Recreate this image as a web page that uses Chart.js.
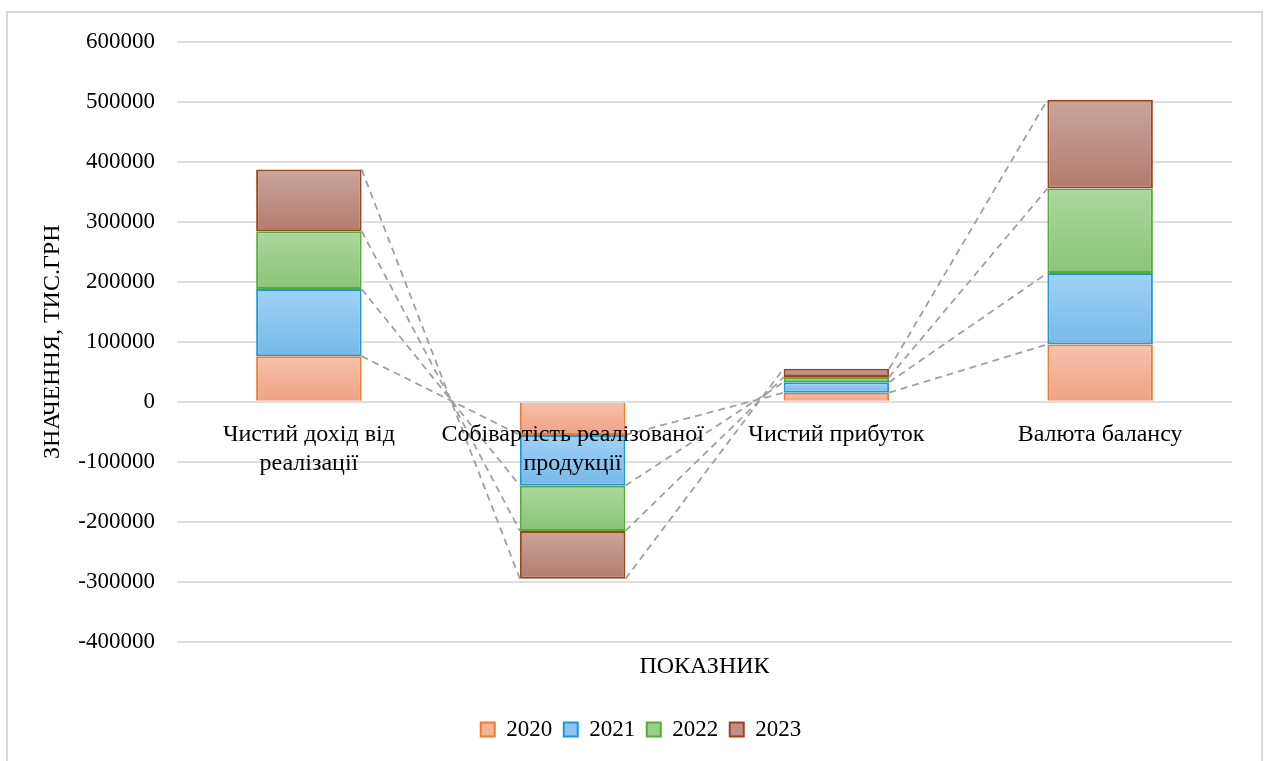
<!DOCTYPE html>
<html>
<head>
<meta charset="utf-8">
<script src="https://cdn.jsdelivr.net/npm/chart.js@4/dist/chart.umd.min.js"></script>
<style>
  html, body { margin: 0; padding: 0; background: #ffffff; }
  #wrap { position: absolute; left: 0; top: 0; width: 1266px; height: 761px; }
  #frame { position: absolute; left: 6px; top: 11px; width: 1253px; height: 800px;
           border: 2px solid #d9d9d9; pointer-events: none; }
</style>
</head>
<body>
<div id="wrap">
  <canvas id="c" width="1266" height="761"></canvas>
  <div id="frame"></div>
</div>
<script>
// ---- data ----
const categories = [
  ['Чистий дохід від', 'реалізації'],
  ['Собівартість реалізованої', 'продукції'],
  'Чистий прибуток',
  'Валюта балансу'
];
const seriesNames = ['2020', '2021', '2022', '2023'];
const values2020 = [76000, -55500, 15000, 95500];
const values2021 = [112000, -84500, 17500, 119000];
const values2022 = [96500, -75500, 8500, 141000];
const values2023 = [103000, -80000, 14000, 148000];
const yTicksMin = -400000;
const yTicksMax = 600000;
const yTickStep = 100000;
const xAxisTitle = 'ПОКАЗНИК';
const yAxisTitle = 'ЗНАЧЕННЯ, ТИС.ГРН';

// ---- styles ----
const allValues = [values2020, values2021, values2022, values2023];
const gradTop = ['#f5c2ae', '#a0d1f6', '#acd89e', '#caa59c'];
const gradBottom = ['#f0a182', '#76b9e8', '#89c478', '#b37b6e'];
const borderCols = ['#ed7d31', '#1f98d8', '#5bab3b', '#9a471d'];
const legendFill = ['#f3b198', '#8cc5ef', '#9bce8b', '#bf9085'];
const FONT = "'Liberation Serif', 'Times New Roman', serif";

function stackValue(ds, idx) {
  const v = allValues[ds][idx];
  let s = 0;
  for (let k = 0; k <= ds; k++) {
    const w = allValues[k][idx];
    if ((w >= 0) === (v >= 0)) s += w;
  }
  return s;
}

function bg(context) {
  const chart = context.chart;
  const ds = context.datasetIndex;
  const i = context.dataIndex;
  const y = chart.scales && chart.scales.y;
  if (!y || i === undefined || context.type !== 'data') return legendFill[ds];
  const end = stackValue(ds, i);
  const start = end - allValues[ds][i];
  const p1 = y.getPixelForValue(start), p2 = y.getPixelForValue(end);
  const top = Math.min(p1, p2), bot = Math.max(p1, p2);
  if (!isFinite(top) || !isFinite(bot) || bot - top < 0.5) return legendFill[ds];
  const g = chart.ctx.createLinearGradient(0, top, 0, bot);
  g.addColorStop(0, gradTop[ds]);
  g.addColorStop(1, gradBottom[ds]);
  return g;
}

const datasets = seriesNames.map((name, d) => ({
  label: name,
  data: allValues[d],
  backgroundColor: bg,
  borderColor: borderCols[d],
  borderWidth: 2,
  borderSkipped: d === 0 ? 'start' : false,
  barPercentage: 0.4,
  categoryPercentage: 1.0,
  xAxisID: 'x',
  yAxisID: 'y'
}));

// Excel-style series lines between stacked bars
const seriesLines = {
  id: 'seriesLines',
  afterDatasetsDraw(chart) {
    const ctx = chart.ctx;
    ctx.save();
    ctx.strokeStyle = '#a0a0a0';
    ctx.lineWidth = 1.8;
    ctx.setLineDash([7, 5]);
    chart.data.datasets.forEach((ds, d) => {
      const meta = chart.getDatasetMeta(d);
      for (let i = 0; i < meta.data.length - 1; i++) {
        const a = meta.data[i], b = meta.data[i + 1];
        ctx.beginPath();
        ctx.moveTo(a.x + a.width / 2, a.y);
        ctx.lineTo(b.x - b.width / 2, b.y);
        ctx.stroke();
      }
    });
    ctx.restore();
  }
};

// centre the legend under the framed chart area (as in the original)
const legendShift = {
  id: 'legendShift',
  afterLayout(chart) {
    if (chart.legend) { chart.legend.left += 50; }
  }
};

new Chart(document.getElementById('c'), {
  type: 'bar',
  data: { labels: categories, datasets },
  plugins: [seriesLines, legendShift],
  options: {
    responsive: false,
    animation: false,
    layout: { padding: { top: 42, right: 34, bottom: 10, left: 0 } },
    plugins: {
      tooltip: { enabled: false },
      legend: {
        position: 'bottom',
        labels: {
          font: { family: FONT, size: 23 },
          color: '#000000',
          boxWidth: 14,
          boxHeight: 14,
          padding: 11.5,
          generateLabels(chart) {
            return chart.data.datasets.map((ds, d) => ({
              text: ds.label,
              fillStyle: legendFill[d],
              strokeStyle: borderCols[d],
              lineWidth: 2,
              hidden: false,
              datasetIndex: d,
              fontColor: '#000000'
            }));
          }
        }
      }
    },
    scales: {
      x: {
        type: 'category',
        stacked: true,
        position: { y: 0 },
        z: 1,
        grid: { display: false, drawTicks: false },
        border: { display: false },
        ticks: {
          z: 1,
          font: { family: FONT, size: 24, lineHeight: 1.2 },
          color: '#000000',
          padding: 19,
          maxRotation: 0,
          autoSkip: false
        }
      },
      x2: {
        type: 'category',
        position: 'bottom',
        labels: categories.map((c, i) => String(i)),
        grid: { display: false, drawTicks: false },
        border: { display: false },
        ticks: { display: false },
        title: {
          display: true,
          text: xAxisTitle,
          font: { family: FONT, size: 24 },
          color: '#000000',
          padding: { top: 0, bottom: 25 }
        },
        afterFit(scale) { scale.height = 65; }
      },
      y: {
        stacked: true,
        min: yTicksMin,
        max: yTicksMax,
        afterFit(scale) { scale.width = 177; },
        grid: { color: '#dedede', lineWidth: 2, drawTicks: false },
        border: { display: false },
        ticks: {
          stepSize: yTickStep,
          font: { family: FONT, size: 23 },
          color: '#000000',
          padding: 22,
          callback: (v) => String(v)
        },
        title: {
          display: true,
          text: yAxisTitle,
          font: { family: FONT, size: 24 },
          color: '#000000',
          padding: { top: 38, bottom: 0 }
        }
      }
    }
  }
});
</script>
</body>
</html>
